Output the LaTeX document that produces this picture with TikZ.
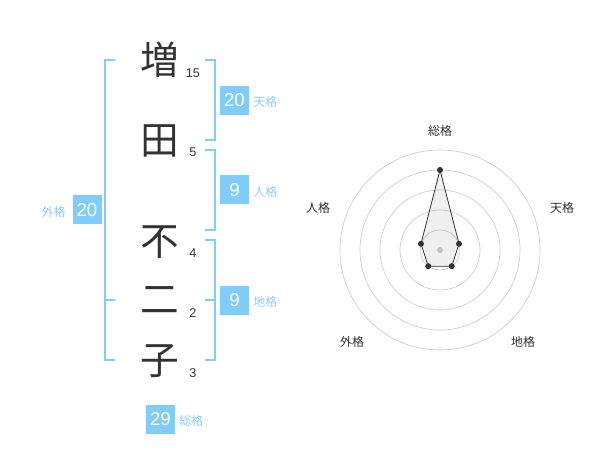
\documentclass[tikz,border=0pt]{standalone}
\usepackage{fontspec}
\setmainfont{Liberation Sans}
\newfontfamily\jp{Noto Sans CJK JP}
\definecolor{kakublue}{RGB}{128,204,250}
\definecolor{kakulabel}{RGB}{140,206,246}
\definecolor{ink}{RGB}{51,51,51}
\tikzset{
    kanji/.style={text=ink, font=\jp\fontsize{29}{29}\selectfont, inner sep=0pt},
    strokes/.style={text=ink, font=\fontsize{9.5}{10}\selectfont, inner sep=0pt},
    numbox/.style={fill=kakublue, text=white, minimum size=21.75pt, inner sep=0pt, font=\fontsize{14}{14}\selectfont},
    kakulbl/.style={text=kakulabel, font=\jp\fontsize{9}{10}\selectfont, inner sep=0pt},
    brk/.style={draw=kakublue, line width=1.5pt},
    axislbl/.style={text=ink, font=\jp\fontsize{9}{10}\selectfont, inner sep=0pt},
}
\begin{document}
\begin{tikzpicture}[x=0.75pt, y=-0.75pt]
        \useasboundingbox (0,0) rectangle (600,470);

        % name
        \node[kanji] (k1) at (160,60) {増};
        \node[kanji] (k2) at (160,141) {田};
        \node[kanji] (k3) at (160,242) {不};
        \node[kanji] (k4) at (160,300) {二};
        \node[kanji] (k5) at (160,361) {子};
        \node[strokes] (s1) at (193,73) {15};
        \node[strokes] (s2) at (193,152) {5};
        \node[strokes] (s3) at (193,253) {4};
        \node[strokes] (s4) at (193,313) {2};
        \node[strokes] (s5) at (193,373) {3};

        % brackets
        \draw[brk] (115,60) -- (105,60) -- (105,360) -- (115,360);
        \draw[brk] (105,300) -- (115,300);
        \draw[brk] (205,60) -- (215,60) -- (215,140) -- (205,140);
        \draw[brk] (205,150) -- (215,150) -- (215,230) -- (205,230);
        \draw[brk] (205,240) -- (215,240) -- (215,360) -- (205,360);
        \draw[brk] (205,300) -- (215,300);

        % kaku
        \node[numbox] (ten) at (234.5,100.5) {20};
        \node[kakulbl, anchor=west] (tenl) at (253,102) {天格};
        \node[numbox] (jin) at (234.5,190) {9};
        \node[kakulbl, anchor=west] (jinl) at (253,192) {人格};
        \node[numbox] (chi) at (234.5,300.5) {9};
        \node[kakulbl, anchor=west] (chil) at (253,302) {地格};
        \node[numbox] (gai) at (87,210) {20};
        \node[kakulbl, anchor=east] (gail) at (66,212) {外格};
        \node[numbox] (sou) at (160.5,419) {29};
        \node[kakulbl, anchor=west] (soul) at (179,421) {総格};

        % radar
        \begin{scope}[shift={(440,250)}]
            \foreach \r in {20,40,...,100} \draw[black!20, line width=0.5pt] (0,0) circle (\r);
            \fill[black!20] (0,0) circle (3);
            \coordinate (p1) at (-90:80);
            \coordinate (p2) at (-18:20);
            \coordinate (p3) at (54:20);
            \coordinate (p4) at (126:20);
            \coordinate (p5) at (198:20);
            \draw[ink, fill=black!50, fill opacity=0.12, line width=0.6pt] (p1)--(p2)--(p3)--(p4)--(p5)--cycle;
            \foreach \p in {p1,p2,p3,p4,p5} \fill[ink] (\p) circle (3);
            \node[axislbl] (a1) at (0,-119) {総格};
            \node[axislbl] (a2) at (122,-42) {天格};
            \node[axislbl] (a3) at (83,92) {地格};
            \node[axislbl] (a4) at (-88,92) {外格};
            \node[axislbl] (a5) at (-122,-42) {人格};
        \end{scope}
    \end{tikzpicture}
\end{document}
